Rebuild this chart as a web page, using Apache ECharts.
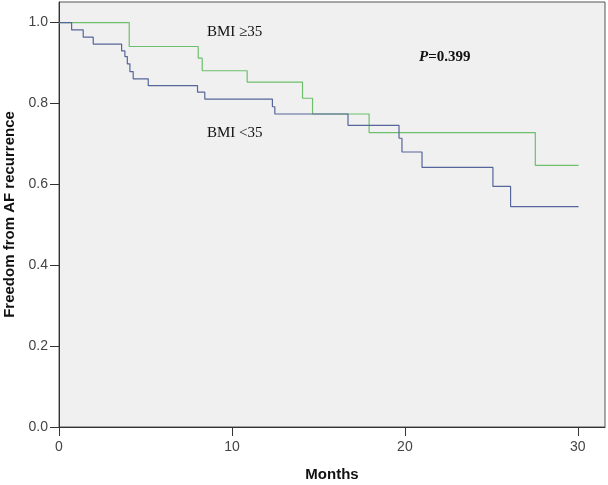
<!DOCTYPE html>
<html>
<head>
<meta charset="utf-8">
<script src="https://cdn.jsdelivr.net/npm/echarts@6/dist/echarts.min.js"></script>
<style>html,body{margin:0;padding:0;background:#fff}#c{width:608px;height:485px}</style>
</head>
<body>
<div id="c"></div>
<script>
// Kaplan-Meier step data (time in months, survival after the step)
var highTimes = [0, 4.06, 8.05, 8.28, 10.88, 14.08, 14.66, 17.93, 27.54, 30.04];
var highSurv  = [1, 0.941, 0.912, 0.881, 0.853, 0.813, 0.774, 0.728, 0.647, 0.647];
var lowTimes = [0, 0.73, 1.40, 1.98, 3.62, 3.81, 3.95, 4.10, 4.29, 5.16, 8.01, 8.43, 12.34, 12.48, 16.71, 19.66, 19.83, 20.99, 25.09, 26.11, 30.04];
var lowSurv  = [1, 0.982, 0.964, 0.947, 0.930, 0.916, 0.898, 0.879, 0.861, 0.844, 0.828, 0.811, 0.792, 0.774, 0.746, 0.714, 0.680, 0.642, 0.595, 0.545, 0.545];
var xTicks = [0, 10, 20, 30];
var yTicks = [0, 0.2, 0.4, 0.6, 0.8, 1.0];
var highName = 'BMI ≥35';
var lowName = 'BMI <35';
var pText = '=0.399';

function pairs(t, s) { return t.map(function (v, i) { return [v, s[i]]; }); }

var chart = echarts.init(document.getElementById('c'));
var sans = 'Liberation Sans, Arial, sans-serif';
var serif = 'Liberation Serif, Times New Roman, serif';
chart.setOption({
  animation: false,
  backgroundColor: '#ffffff',
  grid: { left: 59, top: 2, right: 3, bottom: 58, outerBoundsMode: 'none', containLabel: false,
    show: true, backgroundColor: '#f0f0f0', borderColor: '#555', borderWidth: 1 },
  xAxis: {
    type: 'value', min: 0, max: 31.57,
    name: 'Months', nameLocation: 'middle', nameGap: 40,
    nameTextStyle: { fontFamily: sans, fontWeight: 'bold', fontSize: 15, color: '#111' },
    axisLine: { show: true, onZero: false, lineStyle: { color: '#333', width: 1 } },
    axisTick: { show: true, inside: false, length: 9, customValues: xTicks, lineStyle: { color: '#333' } },
    axisLabel: { customValues: xTicks, fontFamily: sans, fontSize: 14, color: '#444', margin: 13 },
    splitLine: { show: false }
  },
  yAxis: {
    type: 'value', min: 0, max: 1.051,
    name: 'Freedom from AF recurrence', nameLocation: 'middle', nameGap: 39,
    nameTextStyle: { fontFamily: sans, fontWeight: 'bold', fontSize: 15, color: '#111' },
    axisLine: { show: true, onZero: false, lineStyle: { color: '#333', width: 1 } },
    axisTick: { show: true, inside: false, length: 9, customValues: yTicks, lineStyle: { color: '#333' } },
    axisLabel: { customValues: yTicks, fontFamily: sans, fontSize: 14, color: '#444', margin: 11,
      formatter: function (v) { return v.toFixed(1); } },
    splitLine: { show: false }
  },
  series: [
    { name: highName, type: 'line', step: 'end', showSymbol: false, data: pairs(highTimes, highSurv),
      lineStyle: { color: '#6cbf6c', width: 1.2 }, itemStyle: { color: '#6cbf6c' }, z: 3 },
    { name: lowName, type: 'line', step: 'end', showSymbol: false, data: pairs(lowTimes, lowSurv),
      lineStyle: { color: '#56659a', width: 1.2 }, itemStyle: { color: '#56659a' }, z: 4 }
  ],
  graphic: [
    { type: 'text', left: 207, top: 25, style: { text: highName, font: '15px ' + serif, fill: '#111' } },
    { type: 'text', left: 207, top: 126, style: { text: lowName, font: '15px ' + serif, fill: '#111' } },
    { type: 'text', left: 419, top: 50, style: {
        text: '{i|P}{b|' + pText + '}',
        rich: {
          i: { fontFamily: serif, fontStyle: 'italic', fontWeight: 'bold', fontSize: 15, fill: '#111' },
          b: { fontFamily: serif, fontWeight: 'bold', fontSize: 15, fill: '#111' }
        } } }
  ]
});
</script>
</body>
</html>
